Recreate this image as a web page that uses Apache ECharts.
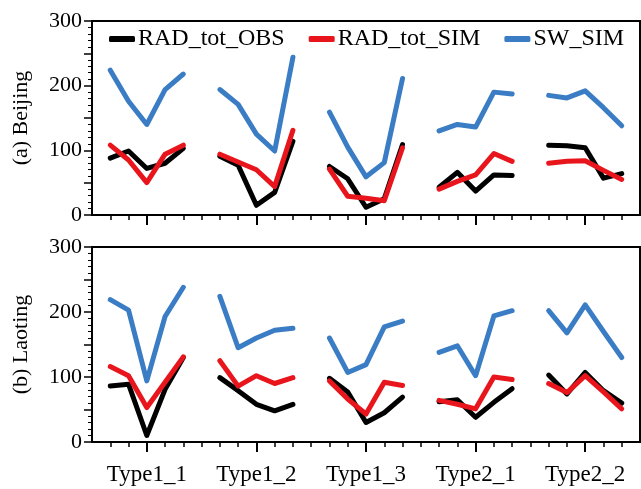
<!DOCTYPE html>
<html>
<head>
<meta charset="utf-8">
<script src="https://cdn.jsdelivr.net/npm/echarts@6.0.0/dist/echarts.min.js"></script>
<style>
  html, body { margin: 0; padding: 0; background: #fff; }
  #chart { width: 641px; height: 489px; }
</style>
</head>
<body>
<div id="chart"></div>
<script>
// categories (each has 5 points, one empty slot between groups)
const categories = ['Type1_1', 'Type1_2', 'Type1_3', 'Type2_1', 'Type2_2']
const seriesNames = ['RAD_tot_OBS', 'RAD_tot_SIM', 'SW_SIM']
const panelNames = ['(a) Beijing', '(b) Laoting']
const yTickLabels = [0, 100, 200, 300]

// (a) Beijing
const bjObs = [
  [88, 99, 72, 80, 103],
  [91, 77, 15, 35, 114],
  [75, 56, 12, 25, 109],
  [43, 66, 37, 62, 61],
  [108, 107, 104, 57, 64]
]
const bjSim = [
  [108, 85, 50, 94, 108],
  [94, 82, 70, 44, 131],
  [71, 29, 26, 22, 104],
  [40, 52, 62, 95, 83],
  [80, 83, 84, 69, 55]
]
const bjSw = [
  [224, 176, 140, 194, 218],
  [194, 171, 125, 99, 244],
  [159, 105, 59, 81, 211],
  [130, 140, 136, 190, 187],
  [185, 181, 192, 166, 138]
]

// (b) Laoting
const ltObs = [
  [86, 89, 10, 81, 130],
  [99, 79, 58, 48, 58],
  [98, 77, 30, 45, 69],
  [62, 65, 38, 61, 82],
  [103, 74, 107, 79, 60]
]
const ltSim = [
  [116, 102, 53, 92, 131],
  [125, 86, 102, 90, 99],
  [94, 66, 43, 92, 87],
  [64, 58, 51, 100, 96],
  [90, 76, 102, 77, 51]
]
const ltSw = [
  [219, 203, 94, 193, 238],
  [224, 145, 160, 172, 175],
  [160, 107, 119, 177, 186],
  [138, 148, 102, 194, 202],
  [202, 168, 211, 170, 130]
]

const colors = ['#000000', '#e8161c', '#3a7dc4']
const font = "'Liberation Serif', 'Times New Roman', serif"

// 把分组数据展开为 [x, y]，组间断开
const toPoints = (groups) => {
  const pts = []
  groups.forEach((g, gi) => {
    g.forEach((v, i) => pts.push([gi * 6 + 1 + i, v]))
    if (gi < groups.length - 1) pts.push([gi * 6 + 6, '-'])
  })
  return pts
}

const minorX = []
for (let i = 1; i < 30; i++) minorX.push(i)
const majorX = categories.map((c, i) => i * 6 + 3)

const grids = [
  { left: 92, right: 1, top: 21, height: 194 },
  { left: 92, right: 1, top: 247, height: 195 }
].map(g => ({ ...g, show: true, borderColor: '#000', borderWidth: 2, backgroundColor: 'transparent' }))

const xAxes = []
const yAxes = []
grids.forEach((g, gi) => {
  xAxes.push({
    type: 'value', gridIndex: gi, min: 0, max: 30, interval: 1,
    axisLine: { lineStyle: { color: '#000', width: 2 } },
    axisTick: { customValues: minorX, length: 5, lineStyle: { color: '#000', width: 1.5 } },
    axisLabel: { show: false },
    splitLine: { show: false }
  })
  xAxes.push({
    type: 'value', gridIndex: gi, min: 0, max: 30, interval: 1, position: 'bottom',
    axisLine: { show: false },
    axisTick: { customValues: majorX, length: 10, lineStyle: { color: '#000', width: 2 } },
    axisLabel: {
      show: gi === 1, customValues: majorX, margin: 21,
      color: '#000', fontFamily: font, fontSize: 23,
      formatter: v => categories[(v - 3) / 6]
    },
    splitLine: { show: false }
  })
  yAxes.push({
    type: 'value', gridIndex: gi, min: 0, max: 300, interval: 50,
    name: panelNames[gi], nameLocation: 'middle', nameGap: 60,
    nameTextStyle: { color: '#000', fontFamily: font, fontSize: 22 },
    axisLine: { show: true, lineStyle: { color: '#000', width: 2 } },
    axisTick: { show: true, length: 8, lineStyle: { color: '#000', width: 1.5 } },
    minorTick: { show: true, splitNumber: 5, length: 4, lineStyle: { color: '#000', width: 1 } },
    axisLabel: {
      customValues: yTickLabels, margin: 10,
      color: '#000', fontFamily: font, fontSize: 22
    },
    splitLine: { show: false }
  })
})

const panels = [[bjObs, bjSim, bjSw], [ltObs, ltSim, ltSw]]
const series = []
panels.forEach((p, gi) => {
  p.forEach((groups, si) => {
    series.push({
      name: seriesNames[si],
      type: 'line',
      xAxisIndex: gi * 2,
      yAxisIndex: gi,
      data: toPoints(groups),
      showSymbol: false,
      connectNulls: false,
      lineStyle: { color: colors[si], width: 5, cap: 'round', join: 'round' },
      itemStyle: { color: colors[si] },
      z: 2 + si,
      animation: false
    })
  })
})

const chart = echarts.init(document.getElementById('chart'))
chart.setOption({
  animation: false,
  color: colors,
  legend: {
    data: seriesNames,
    left: 104,
    top: 22,
    itemGap: 24,
    itemWidth: 26,
    itemHeight: 6,
    icon: 'roundRect',
    textStyle: { color: '#000', fontFamily: font, fontSize: 24, padding: [0, 0, 0, -2] }
  },
  grid: grids,
  xAxis: xAxes,
  yAxis: yAxes,
  series: series
})
</script>
</body>
</html>
